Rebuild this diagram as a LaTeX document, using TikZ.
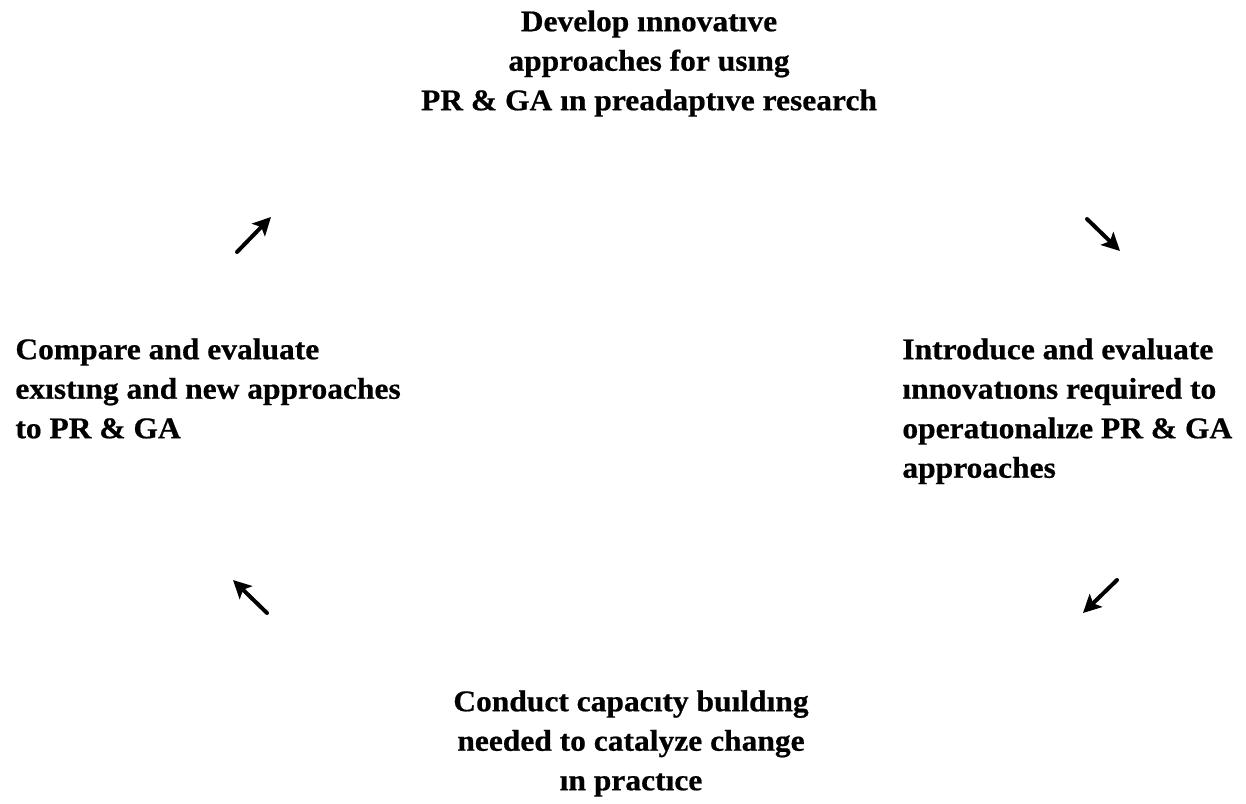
\documentclass[tikz,border=0pt]{standalone}
\usepackage{fontspec}
\setmainfont[FakeStretch=1.05, FakeBold=0.6]{Liberation Serif}
\usetikzlibrary{positioning, arrows.meta}

\begin{document}
\begin{tikzpicture}[x=0.5bp, y=-0.5bp, >={Stealth[length=9bp, width=9bp, inset=2bp]}]
        \tikzstyle{stage} = [inner sep=0pt, font=\bfseries\fontsize{15bp}{19.75bp}\selectfont]
        \tikzstyle{cycle} = [->, line width=2bp, line cap=round]

        \useasboundingbox (0,0) rectangle (1246,803);

        \node [stage, align=center, anchor=north] (develop) at (649,10) {Develop ınnovatıve \\ approaches for usıng \\ PR \& GA ın preadaptıve research};
        \node [stage, align=left, anchor=north west] (introduce) at (902,338) {Introduce and evaluate \\ ınnovatıons required to \\ operatıonalıze PR \& GA \\ approaches};
        \node [stage, align=center, anchor=north] (conduct) at (631,690) {Conduct capacıty buıldıng \\ needed to catalyze change \\ ın practıce};
        \node [stage, align=left, anchor=north west] (compare) at (15,338) {Compare and evaluate \\ exıstıng and new approaches \\ to PR \& GA};

        % short arrows between the stages
        \coordinate (a1) at (1087,219); \coordinate (b1) at (1120,251);
        \coordinate (a2) at (1117,580); \coordinate (b2) at (1083,613);
        \coordinate (a3) at (267,613);  \coordinate (b3) at (233,580);
        \coordinate (a4) at (237,252);  \coordinate (b4) at (271,217);

        \draw [cycle] (a1) -- (b1);
        \draw [cycle] (a2) -- (b2);
        \draw [cycle] (a3) -- (b3);
        \draw [cycle] (a4) -- (b4);

    \end{tikzpicture}
\end{document}
